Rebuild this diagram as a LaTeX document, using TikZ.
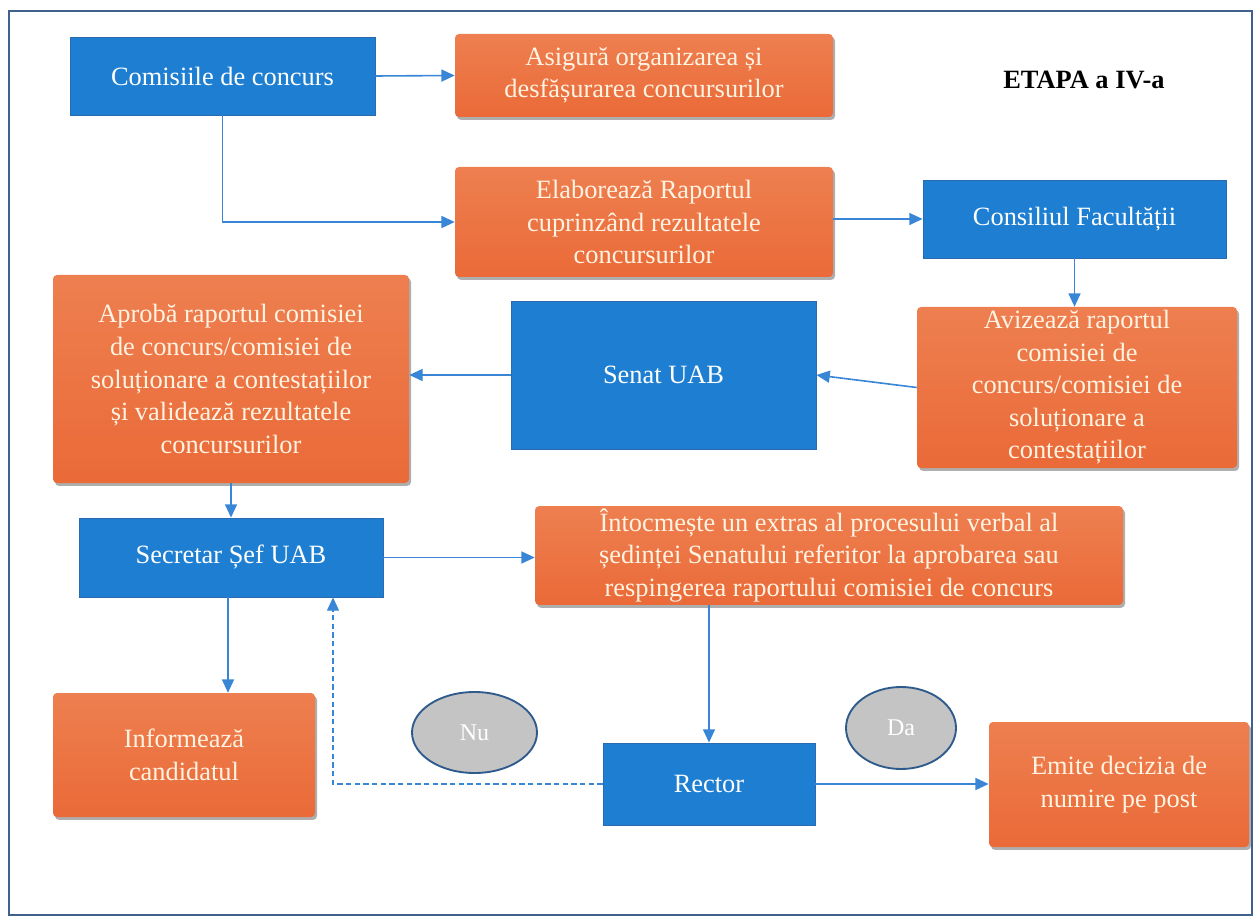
\documentclass[tikz,border=0pt]{standalone}
\usepackage{fontspec}
\setmainfont{Liberation Serif}
\usetikzlibrary{arrows.meta,shadows,shapes.geometric}
\definecolor{bbox}{HTML}{1E7FD2}
\definecolor{bedge}{HTML}{2A6BB0}
\definecolor{obox}{HTML}{EA6A38}
\definecolor{obtop}{HTML}{EE7F50}
\definecolor{otext}{HTML}{FFF3E2}
\definecolor{lnc}{HTML}{3A86D6}
\definecolor{frm}{HTML}{40608F}
\definecolor{ellf}{HTML}{C4C4C4}
\definecolor{elld}{HTML}{2E5A8C}
\tikzset{
  txt/.style={align=center,font=\fontsize{19.8}{24.4}\selectfont},
  bluebox/.style={txt,rectangle,fill=bbox,draw=bedge,line width=0.6pt,text=white,inner sep=2pt},
  orangebox/.style={txt,rectangle,rounded corners=3pt,top color=obtop,bottom color=obox,text=otext,inner sep=2pt,
     drop shadow={shadow xshift=1.5pt,shadow yshift=-2.2pt,opacity=.45,fill=black!70}},
  oval/.style={ellipse,fill=ellf,draw=elld,line width=1.4pt,text=white,font=\fontsize{18}{20}\selectfont,inner sep=0pt},
  conn/.style={draw=lnc,line width=1.2pt,-{Triangle[length=10pt,width=9pt]}},
  dconn/.style={conn,line width=1pt,dash pattern=on 4pt off 2.5pt}
}
\begin{document}
\begin{tikzpicture}[x=0.75pt,y=-0.75pt]
\useasboundingbox (0,0) rectangle (1255,919);
\draw[frm,line width=1.6pt] (9,11) rectangle (1252,915);

\node[font=\fontsize{19.8}{24}\selectfont\bfseries] (title) at (1084,80) {ETAPA a IV-a};

\node[bluebox,minimum width=228.75pt,minimum height=58.5pt] (com) at (222.5,76) {Comisiile de concurs};
\node[orangebox,minimum width=283.5pt,minimum height=62.25pt] (asig) at (644,75.5) {Asigură organizarea și\\desfășurarea concursurilor};
\node[orangebox,minimum width=283.5pt,minimum height=82.5pt] (elab) at (644,222) {Elaborează Raportul\\cuprinzând rezultatele\\concursurilor};
\node[bluebox,minimum width=227.25pt,minimum height=58.5pt] (cons) at (1074.5,219) {Consiliul Facultății};
\node[orangebox,minimum width=240pt,minimum height=120.75pt] (aviz) at (1077,387.5) {Avizează raportul\\comisiei de\\concurs/comisiei de\\soluționare a\\contestațiilor};
\node[bluebox,minimum width=228.75pt,minimum height=111pt] (senat) at (663.5,375) {Senat UAB};
\node[orangebox,minimum width=267pt,minimum height=156pt] (aprob) at (231,379) {Aprobă raportul comisiei\\de concurs/comisiei de\\soluționare a contestațiilor\\și validează rezultatele\\concursurilor};
\node[bluebox,minimum width=228pt,minimum height=59.25pt] (secr) at (231,557.5) {Secretar Șef UAB};
\node[orangebox,minimum width=441pt,minimum height=71.25pt] (intoc) at (829,555.5) {Întocmește un extras al procesului verbal al\\ședinței Senatului referitor la aprobarea sau\\respingerea raportului comisiei de concurs};
\node[orangebox,minimum width=196.5pt,minimum height=93pt] (inform) at (184,755) {Informează\\candidatul};
\node[bluebox,minimum width=159pt,minimum height=61.5pt] (rector) at (709,784) {Rector};
\node[orangebox,minimum width=195pt,minimum height=93.75pt] (emite) at (1119,784.5) {Emite decizia de\\numire pe post};
\node[oval,minimum width=93.75pt,minimum height=60.75pt] (nu) at (474.5,732.5) {Nu};
\node[oval,minimum width=82.5pt,minimum height=61.5pt] (da) at (901,728) {Da};

\coordinate (nuturn) at (333,784);

\draw[conn] (com.east) -- (asig.west);
\draw[conn] (com.south) |- (elab.west);
\draw[conn] (elab.east |- cons.west) -- (cons.west);
\draw[conn] (cons.south) -- (cons.south |- aviz.north);
\draw[conn] (aviz.west) -- (senat.east);
\draw[conn] (senat.west) -- (aprob.east |- senat.west);
\draw[conn] (aprob.south) -- (secr.north);
\draw[conn] (secr.east) -- (intoc.west |- secr.east);
\draw[conn] ([xshift=-2.25pt]secr.south) -- ([xshift=-2.25pt]secr.south |- inform.north);
\draw[conn] (rector.north |- intoc.south) -- (rector.north);
\draw[conn] (rector.east) -- (emite.west |- rector.east);
\draw[dconn] (rector.west) -- (nuturn) -- (nuturn |- secr.south);
\end{tikzpicture}
\end{document}
